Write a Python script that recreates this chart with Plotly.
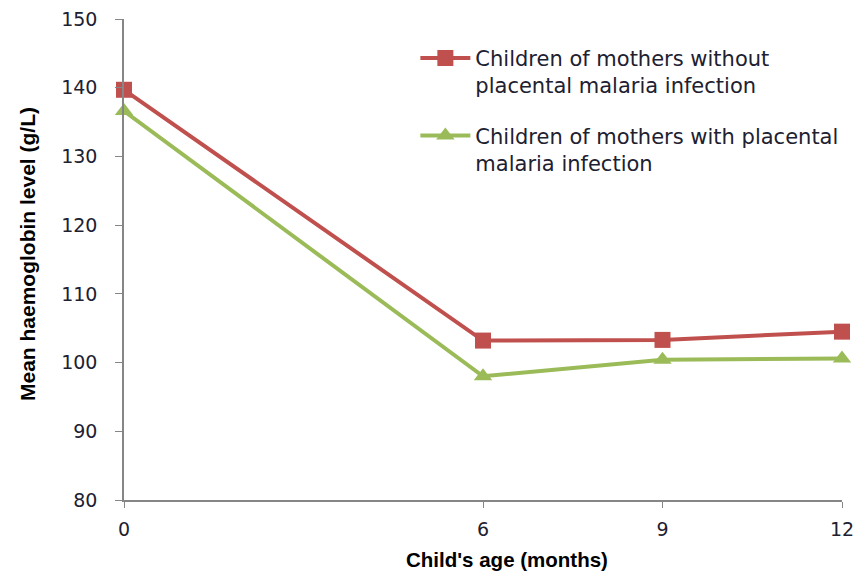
import plotly.graph_objects as go

ages = [0, 6, 9, 12]
tick_labels = ["0", "6", "9", "12"]
without_pm = [139.7, 103.2, 103.3, 104.5]
with_pm = [136.6, 98.0, 100.4, 100.6]
y_ticks = [80, 90, 100, 110, 120, 130, 140, 150]

name1 = "Children of mothers without<br>placental malaria infection"
name2 = "Children of mothers with placental<br>malaria infection"
x_title = "<b>Child's age (months)</b>"
y_title = "<b>Mean haemoglobin level (g/L)</b>"

fig = go.Figure()
fig.add_trace(go.Scatter(
    x=ages, y=without_pm, name=name1, mode="lines+markers", legendgroup="a",
    line=dict(color="#C0504D", width=4),
    marker=dict(symbol="square", size=16, color="#C0504D"),
    cliponaxis=False,
))
fig.add_trace(go.Scatter(
    x=ages, y=with_pm, name=name2, mode="lines+markers", legendgroup="b",
    line=dict(color="#9BBB59", width=4),
    marker=dict(symbol="triangle-up", size=16, color="#9BBB59"),
    cliponaxis=False,
))

tick_font = dict(family="DejaVu Sans", size=19, color="#202030")

fig.update_layout(
    width=857, height=571,
    margin=dict(l=124, r=15, t=19, b=71, autoexpand=False),
    paper_bgcolor="white", plot_bgcolor="white",
    font=dict(family="DejaVu Sans", size=15, color="#1a1a1a"),
    legend=dict(
        x=0.4058, y=0.961, xanchor="left", yanchor="top", valign="top",
        font=dict(family="DejaVu Sans", size=21, color="#202030"),
        tracegroupgap=20, itemwidth=50, bgcolor="rgba(0,0,0,0)",
    ),
    xaxis=dict(
        range=[0, 12], tickvals=ages, ticktext=tick_labels,
        showgrid=False, zeroline=False, showline=True, automargin=False,
        linecolor="#868686", linewidth=1.5,
        ticks="outside", ticklen=6, tickcolor="#868686",
        tickfont=tick_font, ticklabelstandoff=5,
    ),
    yaxis=dict(
        range=[80, 150], tickvals=y_ticks,
        showgrid=False, zeroline=False, showline=True, automargin=False,
        linecolor="#868686", linewidth=1.5,
        ticks="outside", ticklen=7, tickcolor="#868686",
        tickfont=tick_font, ticklabelstandoff=14,
    ),
    annotations=[
        dict(text=x_title, xref="paper", yref="paper", x=0.5334, y=-0.1227,
             xanchor="center", yanchor="middle", showarrow=False,
             font=dict(family="Liberation Sans", size=20.5, color="black")),
        dict(text=y_title, xref="paper", yref="paper", x=-0.1351, y=0.5114,
             xanchor="center", yanchor="middle", showarrow=False, textangle=-90,
             font=dict(family="Liberation Sans", size=21, color="black")),
    ],
)

fig.write_html("out.html", config={"displayModeBar": False},
               post_script="document.body.style.margin='0';")
